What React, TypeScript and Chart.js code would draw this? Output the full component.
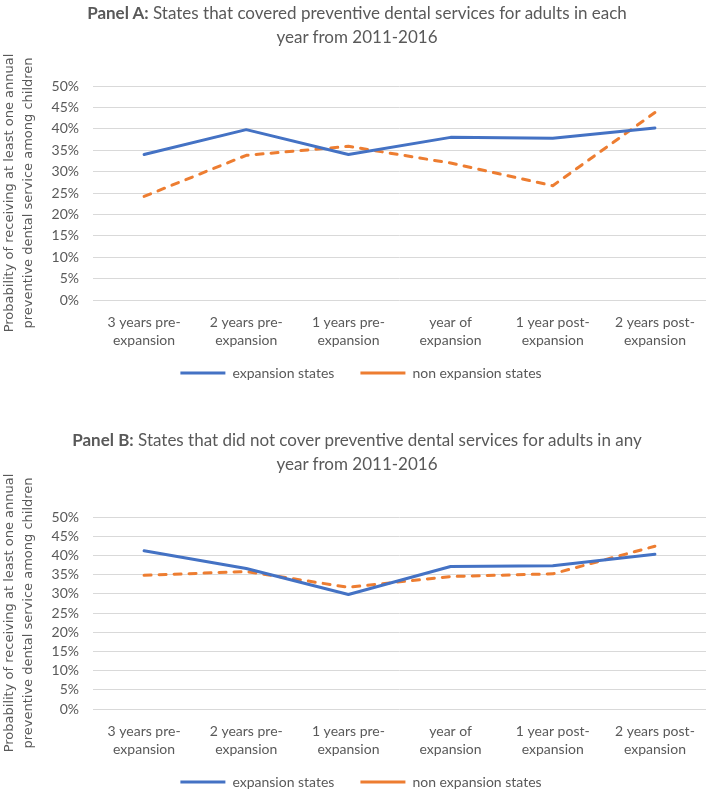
import React, { useEffect, useRef } from "react";
import { Chart, registerables } from "chart.js";

Chart.register(...registerables);

const categories: string[][] = [
  ["3 years pre-", "expansion"],
  ["2 years pre-", "expansion"],
  ["1 years pre-", "expansion"],
  ["year of", "expansion"],
  ["1 year post-", "expansion"],
  ["2 years post-", "expansion"],
];

const seriesNames = ["expansion states", "non expansion states"];

const panelAExpansion = [34.0, 39.8, 34.0, 38.0, 37.8, 40.2];
const panelANonExpansion = [24.2, 33.8, 35.9, 32.0, 26.7, 43.8];

const panelBExpansion = [41.2, 36.6, 29.8, 37.1, 37.3, 40.3];
const panelBNonExpansion = [34.8, 35.8, 31.7, 34.5, 35.2, 42.4];

const yAxisTitle = [
  "Probability of receiving at least one annual",
  "preventive dental service among children",
];

const panelATitleBold = "Panel A:";
const panelATitleRest = " States that covered preventive dental services for adults in each";
const panelBTitleBold = "Panel B:";
const panelBTitleRest = " States that did not cover preventive dental services for adults in any";
const titleLine2 = "year from 2011-2016";

const GRAY = "#595959";
const BLUE = "#4472C4";
const ORANGE = "#ED7D31";
const TICK_FONT = "Lato, 'Noto Sans', sans-serif";

// nudges the legend block into place after Chart.js lays out the boxes
const legendNudge = {
  id: "legendNudge",
  afterLayout(chart: any) {
    const l = chart.legend;
    if (!l) return;
    l.top -= 12;
    l.bottom -= 12;
    l.left += 8;
    l.right += 8;
  },
};

type PanelProps = {
  top: number;
  height: number;
  padTop: number;
  expansion: number[];
  nonExpansion: number[];
};

function PanelChart({ top, height, padTop, expansion, nonExpansion }: PanelProps) {
  const ref = useRef<HTMLCanvasElement | null>(null);
  useEffect(() => {
    if (!ref.current) return;
    const chart = new Chart(ref.current, {
      type: "line",
      data: {
        labels: categories,
        datasets: [
          {
            label: seriesNames[0],
            data: expansion,
            borderColor: BLUE,
            backgroundColor: BLUE,
            borderWidth: 3,
            pointRadius: 0,
            pointHoverRadius: 0,
            tension: 0,
            borderCapStyle: "round",
            borderJoinStyle: "round",
          },
          {
            label: seriesNames[1],
            data: nonExpansion,
            borderColor: ORANGE,
            backgroundColor: ORANGE,
            borderWidth: 3,
            borderDash: [7, 8],
            pointRadius: 0,
            pointHoverRadius: 0,
            tension: 0,
            borderCapStyle: "round",
            borderJoinStyle: "round",
          },
        ],
      },
      plugins: [legendNudge],
      options: {
        responsive: false,
        animation: false,
        devicePixelRatio: 1,
        events: [],
        layout: { padding: { top: padTop, left: 0, right: 3, bottom: 5 } },
        plugins: {
          title: { display: false },
          tooltip: { enabled: false },
          legend: {
            display: true,
            position: "bottom",
            labels: {
              usePointStyle: true,
              pointStyle: "line",
              pointStyleWidth: 45,
              color: GRAY,
              padding: 26,
              font: { family: TICK_FONT, size: 14 },
            },
          },
        },
        scales: {
          x: {
            type: "category",
            offset: true,
            grid: { display: false, drawTicks: false },
            border: { display: false },
            ticks: {
              color: GRAY,
              padding: 13,
              maxRotation: 0,
              autoSkip: false,
              font: { family: TICK_FONT, size: 14, lineHeight: 1.3 },
            },
            afterFit: (s: any) => {
              s.height = 52;
            },
          },
          y: {
            min: 0,
            max: 50,
            grid: { color: "#d9d9d9", lineWidth: 1, drawTicks: false },
            border: { display: false },
            ticks: {
              stepSize: 5,
              autoSkip: false,
              color: GRAY,
              padding: 14,
              font: { family: TICK_FONT, size: 14 },
              callback: (v: any) => v + "%",
            },
            title: {
              display: true,
              text: yAxisTitle,
              color: GRAY,
              padding: { top: 0, bottom: 0 },
              font: { family: "'DejaVu Sans', sans-serif", size: 13, lineHeight: 1.45 },
            },
            afterFit: (s: any) => {
              s.width = 93;
            },
          },
        },
      },
    } as any);
    return () => chart.destroy();
  }, []);
  return (
    <canvas
      ref={ref}
      width={709}
      height={height}
      style={{ position: "absolute", left: 0, top, width: 709, height, display: "block" }}
    />
  );
}

function Title({ top, bold, rest }: { top: number; bold: string; rest: string }) {
  return (
    <div
      style={{
        position: "absolute",
        left: 0,
        top,
        width: 714,
        textAlign: "center",
        fontFamily: TICK_FONT,
        fontSize: 17,
        lineHeight: "24px",
        color: GRAY,
        whiteSpace: "nowrap",
        zIndex: 2,
      }}
    >
      <span style={{ fontWeight: 700 }}>{bold}</span>
      <span>{rest}</span>
      <br />
      <span>{titleLine2}</span>
    </div>
  );
}

export default function App() {
  return (
    <div
      style={{
        position: "absolute",
        left: 0,
        top: 0,
        width: 709,
        height: 791,
        overflow: "hidden",
        background: "#ffffff",
      }}
    >
      <PanelChart top={0} height={407} padTop={86} expansion={panelAExpansion} nonExpansion={panelANonExpansion} />
      <PanelChart top={395} height={421} padTop={122} expansion={panelBExpansion} nonExpansion={panelBNonExpansion} />
      <Title top={1} bold={panelATitleBold} rest={panelATitleRest} />
      <Title top={428} bold={panelBTitleBold} rest={panelBTitleRest} />
    </div>
  );
}
